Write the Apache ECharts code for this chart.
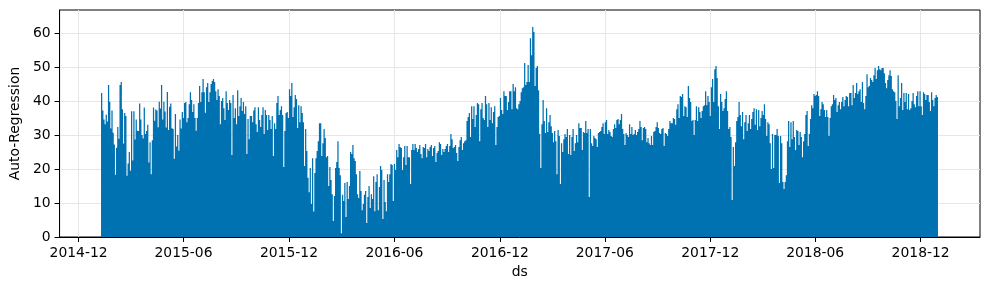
<!DOCTYPE html>
<html><head><meta charset="utf-8">
<script src="https://cdn.jsdelivr.net/npm/echarts@6.0.0/dist/echarts.min.js"></script>
<style>html,body{margin:0;padding:0;background:#fff}#c{width:989px;height:290px}</style>
</head><body><div id="c"></div>
<script>
// ---- data ----
const startDate = '2015-01-10';
const stepDays = 2;
const arValues = [
42.4,37.2,34.6,33.2,36,34,44.7,39.8,31.9,37.2,30.7,27.2,18.3,26.3,32.4,28.9,44.7,45.6,37.6,27.5,36.5,35.6,18,21.6,25,19.5,37,22.5,37,28.7,34.6,31.3,31.2,39.3,34.6,30,29,38.1,30.3,31.2,33,21.9,27.9,18.5,28.5,38.1,34.2,37.5,37.2,32.3,39.8,37.8,44.7,34.6,39.8,36.9,32.2,42.7,31.5,38.3,39.3,32,31.8,23,
36.2,26.6,30,25.4,34.6,31.9,36.8,35,39.4,39.7,33.8,35,39.1,42.6,40.3,36.8,39.1,35,31.3,35,39.4,44.4,39.7,42.6,46.5,42.6,36.6,44.1,45.3,39.7,42.6,45,45.9,46.5,45.6,42.9,40.3,43.5,41.5,33.2,40,40.9,37.9,34.4,42.9,39.4,37.4,40.3,39.4,24.1,41.8,35,37.9,33.2,43.2,35.6,38.5,40.9,37.1,39.7,36.2,38.5,24.4,34.7,28.8,35.6,35.6,33.8,
37.2,38.2,33.2,30.9,38.2,34.4,32.4,35.9,38.2,30.3,37.4,35.9,31.5,35.9,34.4,31.8,35.6,23.8,33.5,31.8,39.4,41.5,35.9,37.4,38.5,35.9,20.6,31.2,36.5,36.8,35,43.5,41.5,45.3,35.3,38.2,41.8,40.6,32.1,38.8,33.8,38.5,36.5,33.8,20.9,31.8,25.3,17.4,13.2,20.3,9.7,23.2,7.5,18.8,23.2,25.3,28.2,33.5,33.5,23.8,27.6,31.8,29.1,23.5,23.8,15,20.6,16.8,
12.6,4.7,12.1,20.3,22.1,28.2,20.3,18.2,1.1,12.4,10.6,15.9,5.9,16.2,11.2,15,25,24.4,27.1,23.2,22.4,18.5,12.6,11.5,19.4,13.5,7.9,9.7,12.4,13.5,4.1,11.8,15,8.5,12.6,11.2,17.9,7.6,16.2,18.5,7.9,14.7,20.9,19.7,5.3,16.8,10.3,7.6,18.5,16.2,18.5,21.5,21.2,10.6,21.5,19.7,25.6,23.5,27.4,26.5,26.2,19.7,23.5,26.8,21.2,26.8,23.5,23.5,
15.6,25.6,27.4,25.6,27.4,26.2,25,25.9,27.1,24.4,23.2,26.5,26.2,27.4,23.5,25.9,25.3,26.5,27.1,23.8,26.2,26.8,22.1,24.7,25.3,27.9,27.4,24.1,25.9,25,25.9,26.8,27.4,25,26.8,30.3,28.8,26.2,26.5,27.1,24.7,22.4,26.5,28.5,29.4,25.6,27.6,28.2,28.5,34.1,35.3,36.5,29.4,38.5,34.7,38.5,32.4,35.9,39.4,39.1,28.2,37.6,39.4,35,34.4,41.5,39.1,32.4,
39.4,34.4,38.2,33.5,36.8,38.5,27.1,32.4,35.3,35.6,40.9,37.4,36.2,42.9,41.5,41.5,37.4,39.7,42.9,42.9,37.6,45,42.9,44.1,37.9,37.6,39.1,40,42.6,43.8,44.1,51.2,44.7,45.6,50.6,45.6,58.5,53.5,61.8,60.3,44.4,49.7,50.3,43.2,30.3,20.3,33.2,40.3,34.1,30.6,37.9,30.9,33.8,35.9,32.6,30.6,27.9,31.2,28.2,18.5,31.5,29.7,15.6,27.6,25,28.8,30.3,29.4,
31.8,24.4,30,24.1,29.4,31.8,25.3,27.6,30,27.9,33.5,32.1,32.1,25.6,30.9,30.6,34.1,30.6,31.8,11.8,31.8,27.6,26.8,29.7,29.1,28.8,26.5,30.6,30.9,31.2,32.4,33.5,30.3,33.8,34.4,30.3,31.5,30.9,29.7,29.4,31.8,33.2,32.1,34.4,34.7,33.2,34.4,36.2,31.8,30.3,27.1,30.6,30,29.4,33.2,30.3,32.4,30,30.3,31.5,30,30.9,31.8,34.1,32.4,28.5,32.1,32.4,
31.8,27.9,29.1,27.6,27.1,29.7,27.1,30.9,31.2,32.4,33.8,32.1,30.6,30.3,31.8,32.1,26.8,30.6,30.3,29.7,31.8,34.1,33.5,33.5,35,34.7,33,37.6,39.1,35,41.5,41.2,42.1,35.6,38.5,38.2,35.3,44.4,40.9,39.7,34.1,34.4,30,34.4,38.5,34.1,38.2,36.8,35,37.1,38.5,38.8,42.9,38.8,41.5,39.7,35.6,44.1,46.5,39.7,49.4,50.3,46.8,38.5,31.8,42.1,39.7,37.1,
37.9,40.6,42.9,37.1,31.8,32.4,29.4,10.9,26.5,20.9,27.9,34.1,35.3,39.7,35.9,32.6,36.8,28.8,33.8,35.9,31.2,33.5,35.9,31.8,34.7,36.8,37.9,33,37.6,31.5,37.4,32.6,35,37.1,35.9,39.1,34.7,29.7,33.8,33.2,27.6,20,30.3,20.3,30,30,31.8,29.7,15.9,29.7,27.6,16.2,14.1,16.2,18.2,28.2,34.1,26.5,33.8,28.8,34.1,29.4,25.6,31.5,31.2,27.1,30.9,29.4,
23.5,28.2,30.3,35.9,37.1,26.8,30.3,34.7,38.8,37.9,42.1,41.5,41.8,42.9,41.5,35.6,37.6,39.7,39.1,37.4,35.3,37.4,35.3,29.7,35,38.5,39.1,41.8,40.3,40.9,36.8,38.8,39.7,37.6,39.7,41.2,38.5,40.3,41.5,41.2,38.5,42.4,42.4,38.8,44.7,40.9,42.4,45.3,42.1,42.9,43.5,39.7,45.6,39.4,37.6,41.5,47.9,44.1,44.4,46.8,46.2,45.6,47.6,49.7,46.5,49.1,50.3,49.4,
49.1,49.7,49.7,48.2,45.3,43.8,46.2,47.6,49.1,47.4,43.5,42.9,42.6,40,34.7,47.6,38.5,40.9,45.3,37.4,42.4,39.7,42.4,37.6,42.1,37.4,37.9,40,42.4,39.1,38.2,41.5,42.9,38.5,42.9,38.5,35.9,42.6,42.1,40.3,41.8,41.8,39.7,37.1,42.6,40.3,38.5,40.9,41.8,41.2
];
const xTickLabels = ['2014-12','2015-06','2015-12','2016-06','2016-12','2017-06','2017-12','2018-06','2018-12'];
const yTickValues = [0,10,20,30,40,50,60];
const xRange = ['2014-10-29','2019-03-14'];
const yRange = [0, 66.8];

// ---- build ----
const DAY = 86400000;
function parseDay(s){const p=s.split('-').map(Number);return Date.UTC(p[0],(p[1]||1)-1,p[2]||1);}
const t0 = parseDay(startDate);
const dates = arValues.map((v,i)=>t0 + i*stepDays*DAY);
const xTickValues = xTickLabels.map(parseDay);
function fmtMonth(v){const d=new Date(v);const m=d.getUTCMonth()+1;return d.getUTCFullYear()+'-'+(m<10?'0':'')+m;}

const FONT = 'DejaVu Sans';
const chart = echarts.init(document.getElementById('c'), null, {renderer:'canvas'});
chart.setOption({
  animation:false,
  backgroundColor:'#fff',
  textStyle:{fontFamily:FONT},
  grid:{left:57,right:9,top:10,bottom:53,show:true,borderColor:'#000',borderWidth:1,backgroundColor:'transparent'},
  xAxis:{
    type:'value', min:parseDay(xRange[0]), max:parseDay(xRange[1]),
    name:'ds', nameLocation:'middle', nameGap:27,
    nameTextStyle:{fontFamily:FONT,fontSize:13.9,color:'#000'},
    axisLine:{show:true,onZero:false,lineStyle:{color:'#000',width:1}},
    axisTick:{show:true,length:5,lineStyle:{color:'#000'},customValues:xTickValues},
    axisLabel:{show:true,margin:9,fontFamily:FONT,fontSize:13.9,color:'#000',customValues:xTickValues,formatter:fmtMonth,hideOverlap:false},
    splitLine:{show:true,lineStyle:{color:'#e6e6e6',width:1}},
    minorTick:{show:false}
  },
  yAxis:{
    type:'value', min:yRange[0], max:yRange[1],
    name:'Auto-Regression', nameLocation:'middle', nameGap:35,
    nameTextStyle:{fontFamily:FONT,fontSize:13.9,color:'#000'},
    axisLine:{show:true,lineStyle:{color:'#000',width:1}},
    axisTick:{show:true,length:5,lineStyle:{color:'#000'},customValues:yTickValues},
    axisLabel:{show:true,margin:9,fontFamily:FONT,fontSize:13.9,color:'#000',customValues:yTickValues},
    splitLine:{show:true,lineStyle:{color:'#e6e6e6',width:1}}
  },
  series:[{
    type:'bar', silent:true,
    large:true, largeThreshold:100,
    data:dates.map((d,i)=>[d,arValues[i]]),
    barWidth:1.25,
    itemStyle:{color:'#0072B2'}
  }]
});
</script></body></html>
